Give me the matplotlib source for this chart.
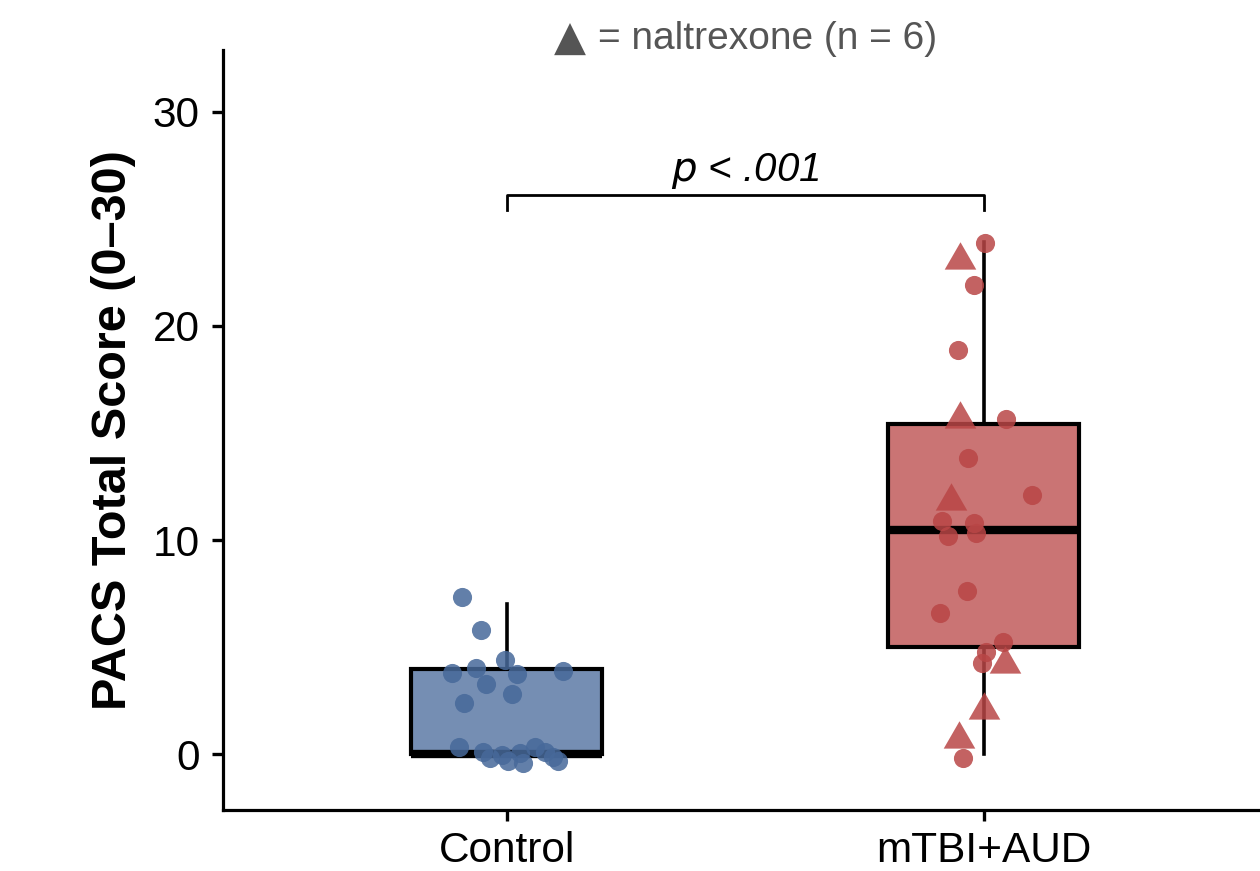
import matplotlib
matplotlib.use("Agg")
import matplotlib.pyplot as plt
import numpy as np

plt.rcParams['font.family'] = ['Liberation Sans', 'DejaVu Sans']

groups = ['Control', 'mTBI+AUD']
group_colors = ['#47699A', '#B94646']

# control: jittered positions and scores
ctrl_dx = [-0.094, -0.055, -0.003, -0.115, -0.064, 0.022, 0.117, -0.043, 0.010, -0.090,
           -0.100, -0.051, -0.036, -0.010, 0.003, 0.027, 0.034, 0.059, 0.080, 0.096, 0.108]
ctrl_y = [7.36, 5.80, 4.40, 3.78, 4.01, 3.73, 3.90, 3.28, 2.80, 2.41,
          0.35, 0.12, -0.19, -0.03, -0.30, 0.07, -0.39, 0.35, 0.12, -0.11, -0.30]

# mTBI+AUD, no naltrexone (circles)
aud_dx = [0.002, -0.020, -0.055, 0.046, -0.034, 0.101, -0.087, -0.020, -0.076, -0.017,
          -0.035, -0.092, 0.040, 0.004, -0.003, -0.043]
aud_y = [23.86, 21.91, 18.87, 15.64, 13.82, 12.11, 10.89, 10.81, 10.19, 10.32,
         7.62, 6.61, 5.23, 4.79, 4.28, -0.16]

# mTBI+AUD, naltrexone (triangles)
nal_dx = [-0.050, -0.050, -0.069, 0.044, 0.001, -0.053]
nal_y = [23.07, 15.64, 11.83, 4.20, 2.06, 0.70]

# box stats
q1 = [0.0, 5.02]
med = [0.0, 10.47]
q3 = [3.97, 15.43]
whislo = [0.0, 0.0]
whishi = [7.0, 23.93]

fig = plt.figure(figsize=(12.6, 8.71), dpi=100)
ax = fig.add_axes([0.177, 0.070, 0.823, 0.8726])

stats = []
for i in range(2):
    stats.append(dict(med=med[i], q1=q1[i], q3=q3[i], whislo=whislo[i], whishi=whishi[i], fliers=[]))
bp = ax.bxp(stats, positions=[0, 1], widths=0.4, patch_artist=True, showcaps=False,
            boxprops=dict(linewidth=3.0, edgecolor='black'),
            whiskerprops=dict(linewidth=2.6, color='black'),
            medianprops=dict(linewidth=6.0, color='black', solid_capstyle='butt'))
for patch, c in zip(bp['boxes'], group_colors):
    patch.set_facecolor(matplotlib.colors.to_rgba(c, 0.75))

ax.scatter(np.array(ctrl_dx) + 0, ctrl_y, s=190, color=group_colors[0], alpha=0.85,
           linewidths=0, zorder=3)
ax.scatter(np.array(aud_dx) + 1, aud_y, s=190, color=group_colors[1], alpha=0.85,
           linewidths=0, zorder=3)
ax.scatter(np.array(nal_dx) + 1, nal_y, s=690, marker=(3, 0, 0), color=group_colors[1],
           alpha=0.85, linewidths=0, zorder=3)

# significance bracket
bx = [0, 0, 1, 1]
by = [25.4, 26.1, 26.1, 25.4]
ax.plot(bx, by, color='black', linewidth=2.0, clip_on=False)
ax.text(0.5, 26.75, r'$p$ < .001', ha='center', va='baseline', fontsize=29, style='italic')

# naltrexone note above the panel
ax.text(0.166, 33.4, '\u25B2', ha='right', va='center', fontsize=30, color='#555555',
        family='DejaVu Sans', clip_on=False)
ax.text(0.191, 33.4, '= naltrexone (n = 6)', ha='left', va='center', fontsize=28,
        color='#555555', clip_on=False)

ax.set_xlim(-0.595, 1.579)
ax.set_ylim(-2.6, 32.88)
ax.set_xticks([0, 1])
ax.set_xticklabels(groups)
ax.set_yticks([0, 10, 20, 30])
ax.tick_params(axis='both', labelsize=30.5, length=8, width=2.4, direction='out')
ax.tick_params(axis='y', pad=9)
ax.tick_params(axis='x', pad=7)
for s in ['top', 'right']:
    ax.spines[s].set_visible(False)
for s in ['left', 'bottom']:
    ax.spines[s].set_linewidth(2.3)
ax.set_ylabel('PACS Total Score (0\u201330)', fontsize=35, fontweight='bold', labelpad=12)

fig.savefig('out.png', dpi=100)
